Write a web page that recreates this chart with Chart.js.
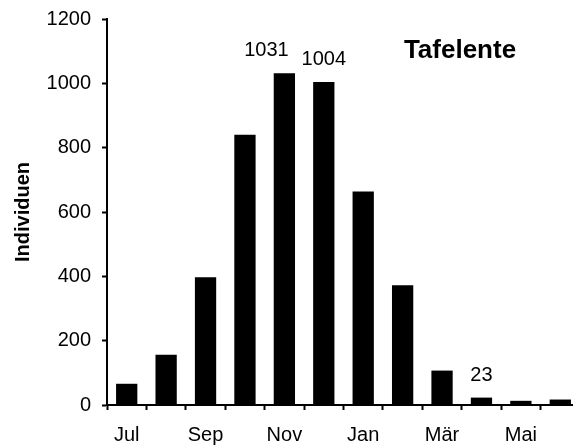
<!DOCTYPE html>
<html>
<head>
<meta charset="utf-8">
<script src="https://cdn.jsdelivr.net/npm/chart.js@4"></script>
<style>
  html, body { margin: 0; padding: 0; background: #fff; overflow: hidden; }
  #chart { display: block; }
</style>
</head>
<body>
<canvas id="chart" width="580" height="445"></canvas>
<script>
// months Jul..Jun, only every second one gets a label
const months = ["Jul", "Aug", "Sep", "Okt", "Nov", "Dez", "Jan", "Feb", "Mär", "Apr", "Mai", "Jun"];
const counts = [66, 156, 397, 840, 1031, 1004, 664, 372, 107, 23, 13, 17];
const yTicks = [0, 200, 400, 600, 800, 1000, 1200];
const labelledBars = [4, 5, 9]; // bars with the value written above
const speciesName = "Tafelente";
const yTitle = "Individuen";

const FONT = "'Liberation Sans', Arial, sans-serif";

// horizontal nudge for the value labels (the 1031 sits left of its bar)
const labelShift = { 4: -18, 5: 0, 9: 0 };

const annotations = {
  id: "annotations",
  afterDatasetsDraw(chart) {
    const ctx = chart.ctx;
    const meta = chart.getDatasetMeta(0);
    ctx.save();
    ctx.fillStyle = "#000";
    ctx.textAlign = "center";
    ctx.textBaseline = "alphabetic";
    ctx.font = "20px " + FONT;
    labelledBars.forEach(i => {
      const bar = meta.data[i];
      ctx.fillText(String(counts[i]), bar.x + (labelShift[i] || 0), bar.y - 17);
    });
    // species name
    ctx.font = "bold 26px " + FONT;
    ctx.fillText(speciesName, 460, 58);
    ctx.restore();
  }
};

new Chart(document.getElementById("chart"), {
  type: "bar",
  data: {
    labels: months,
    datasets: [{
      data: counts,
      backgroundColor: "#000",
      borderWidth: 0,
      barPercentage: 0.54,
      categoryPercentage: 1
    }]
  },
  options: {
    responsive: false,
    animation: false,
    layout: { padding: { top: 19, left: 0, right: 0, bottom: 0 } },
    plugins: {
      legend: { display: false },
      tooltip: { enabled: false }
    },
    scales: {
      x: {
        grid: {
          offset: true,
          drawOnChartArea: false,
          drawTicks: true,
          tickLength: 5,
          tickWidth: 2,
          color: "#000"
        },
        border: { color: "#000", width: 2 },
        ticks: {
          autoSkip: false,
          maxRotation: 0,
          padding: 13,
          color: "#000",
          font: { family: FONT, size: 20 },
          callback: (v, i) => (i % 2 === 0 ? months[i] : "")
        },
        afterFit: scale => {
          scale.height = 40;
          scale.paddingLeft = 0;
          scale.paddingRight = 0;
        }
      },
      y: {
        min: 0,
        max: 1200,
        afterBuildTicks: scale => { scale.ticks = yTicks.map(v => ({ value: v })); },
        grid: {
          drawOnChartArea: false,
          drawTicks: true,
          tickLength: 5,
          tickWidth: 2,
          color: "#000"
        },
        border: { color: "#000", width: 2 },
        ticks: {
          padding: 11,
          color: "#000",
          font: { family: FONT, size: 20 },
          callback: v => String(v)
        },
        title: {
          display: true,
          text: yTitle,
          color: "#000",
          font: { family: FONT, size: 20, weight: "bold" },
          padding: { top: 11, bottom: 0 }
        },
        afterFit: scale => {
          scale.width = 107;
          scale.paddingTop = 0;
          scale.paddingBottom = 0;
        }
      }
    }
  },
  plugins: [annotations]
});
</script>
</body>
</html>
